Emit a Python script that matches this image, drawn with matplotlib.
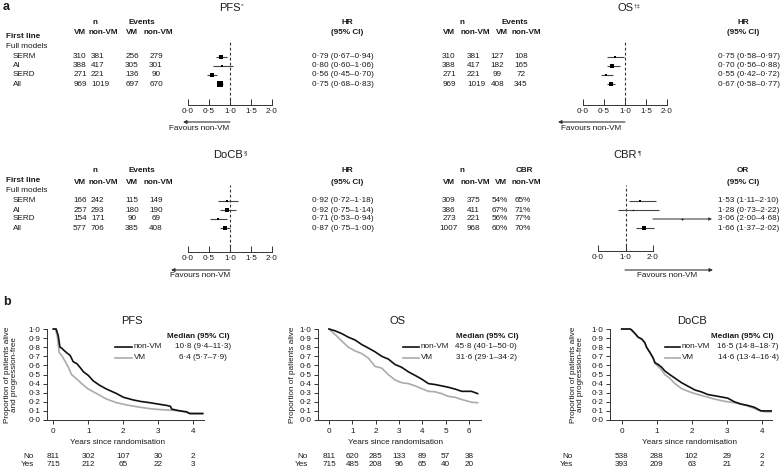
import matplotlib
matplotlib.use('Agg')
import matplotlib.pyplot as plt
import matplotlib.transforms as mtransforms
import numpy as np

plt.rcParams['font.family'] = ['Liberation Sans', 'DejaVu Sans']
plt.rcParams['axes.linewidth'] = 0.7

# ---------------- data (panel a) ----------------
subgroups = ['SERM', 'AI', 'SERD', 'All']

pfs_n_vm = [310, 388, 271, 969]
pfs_n_non = [381, 417, 221, 1019]
pfs_ev_vm = [256, 305, 136, 697]
pfs_ev_non = [279, 301, 90, 670]
pfs_hr = [0.79, 0.80, 0.56, 0.75]
pfs_lo = [0.67, 0.60, 0.45, 0.68]
pfs_hi = [0.94, 1.06, 0.70, 0.83]

os_n_vm = [310, 388, 271, 969]
os_n_non = [381, 417, 221, 1019]
os_ev_vm = [127, 182, 99, 408]
os_ev_non = [108, 165, 72, 345]
os_hr = [0.75, 0.70, 0.55, 0.67]
os_lo = [0.58, 0.56, 0.42, 0.58]
os_hi = [0.97, 0.88, 0.72, 0.77]

docb_n_vm = [166, 257, 154, 577]
docb_n_non = [242, 293, 171, 706]
docb_ev_vm = [115, 180, 90, 385]
docb_ev_non = [149, 190, 69, 408]
docb_hr = [0.92, 0.92, 0.71, 0.87]
docb_lo = [0.72, 0.75, 0.53, 0.75]
docb_hi = [1.18, 1.14, 0.94, 1.00]

cbr_n_vm = [309, 386, 273, 1007]
cbr_n_non = [375, 411, 221, 968]
cbr_pct_vm = [54, 67, 56, 60]
cbr_pct_non = [65, 71, 77, 70]
cbr_or = [1.53, 1.28, 3.06, 1.66]
cbr_lo = [1.11, 0.73, 2.00, 1.37]
cbr_hi = [2.10, 2.22, 4.68, 2.02]

# ---------------- data (panel b) ----------------
pfs_t_non = [0, 0.08, 0.14, 0.19, 0.24, 0.29, 0.38, 0.48, 0.57, 0.67, 0.76, 0.86, 1.0, 1.14,
             1.33, 1.52, 1.81, 2.0, 2.29, 2.48, 2.76, 3.0, 3.24, 3.35, 3.38, 3.62, 3.81, 3.9, 4.27]
pfs_s_non = [1.0, 1.0, 0.93, 0.80, 0.79, 0.77, 0.74, 0.71, 0.64, 0.62, 0.58, 0.53, 0.49, 0.43,
             0.38, 0.34, 0.29, 0.25, 0.22, 0.205, 0.19, 0.175, 0.16, 0.15, 0.12, 0.10, 0.09, 0.07, 0.07]
pfs_t_vm = [0, 0.06, 0.11, 0.17, 0.24, 0.33, 0.43, 0.52, 0.67, 0.81, 1.0, 1.24, 1.52, 1.81,
            2.1, 2.48, 2.86, 3.24, 3.62, 3.9, 4.27]
pfs_s_vm = [1.0, 1.0, 0.93, 0.74, 0.71, 0.65, 0.58, 0.50, 0.45, 0.40, 0.34, 0.29, 0.23, 0.19,
            0.165, 0.14, 0.12, 0.11, 0.10, 0.075, 0.075]

os_t = [0, 0.26, 0.54, 0.83, 1.11, 1.4, 1.69, 1.97, 2.26, 2.54, 2.83, 3.11, 3.4, 3.69, 3.97,
        4.26, 4.54, 4.83, 5.11, 5.4, 5.69, 6.11, 6.37]
os_s_non = [1.0, 0.98, 0.95, 0.91, 0.88, 0.83, 0.79, 0.75, 0.70, 0.67, 0.61, 0.58, 0.53, 0.49,
            0.45, 0.40, 0.39, 0.375, 0.36, 0.34, 0.315, 0.315, 0.29]
os_s_vm = [1.0, 0.94, 0.87, 0.80, 0.76, 0.73, 0.68, 0.59, 0.57, 0.50, 0.44, 0.41, 0.40, 0.375,
           0.345, 0.315, 0.31, 0.29, 0.26, 0.25, 0.225, 0.195, 0.19]

docb_t_non = [0, 0.24, 0.28, 0.38, 0.47, 0.57, 0.66, 0.71, 0.81, 0.9, 0.95, 1.04, 1.14, 1.23,
              1.37, 1.52, 1.71, 1.9, 2.09, 2.27, 2.46, 2.75, 3.03, 3.22, 3.41, 3.6, 3.79, 3.98, 4.27]
docb_s_non = [1.0, 1.0, 0.99, 0.95, 0.91, 0.89, 0.85, 0.80, 0.74, 0.68, 0.63, 0.61, 0.58, 0.54,
              0.50, 0.46, 0.41, 0.37, 0.33, 0.31, 0.28, 0.26, 0.24, 0.20, 0.175, 0.16, 0.14, 0.10, 0.10]
docb_t_vm = [0, 0.24, 0.28, 0.38, 0.47, 0.57, 0.66, 0.71, 0.81, 0.9, 0.95, 1.04, 1.14, 1.23,
             1.37, 1.52, 1.71, 1.9, 2.09, 2.37, 2.65, 2.94, 3.22, 3.51, 3.7, 3.89, 4.08, 4.27]
docb_s_vm = [1.0, 1.0, 0.99, 0.95, 0.91, 0.89, 0.85, 0.80, 0.74, 0.68, 0.62, 0.59, 0.55, 0.50,
             0.46, 0.40, 0.345, 0.315, 0.29, 0.26, 0.23, 0.205, 0.19, 0.165, 0.14, 0.11, 0.09, 0.09]

pfs_risk_times = [0, 1, 2, 3, 4]
pfs_risk_no = [811, 302, 107, 30, 2]
pfs_risk_yes = [715, 212, 65, 22, 3]
os_risk_times = [0, 1, 2, 3, 4, 5, 6]
os_risk_no = [811, 620, 285, 133, 89, 57, 38]
os_risk_yes = [715, 485, 208, 96, 65, 40, 20]
docb_risk_times = [0, 1, 2, 3, 4]
docb_risk_no = [538, 288, 102, 29, 2]
docb_risk_yes = [393, 209, 63, 21, 2]

pfs_median = {'non-VM': (10.8, 9.4, 11.3), 'VM': (6.4, 5.7, 7.9)}
os_median = {'non-VM': (45.8, 40.1, 50.0), 'VM': (31.6, 29.1, 34.2)}
docb_median = {'non-VM': (16.5, 14.8, 18.7), 'VM': (14.6, 13.4, 16.4)}

# ---------------- figure ----------------
W, H = 780, 468
fig = plt.figure(figsize=(W / 100, H / 100), dpi=100)
ov = fig.add_axes([0, 0, 1, 1], zorder=10)
ov.set_xlim(0, W)
ov.set_ylim(H, 0)
ov.axis('off')
ov.patch.set_alpha(0)
renderer = fig.canvas.get_renderer()

FS = 5.9
DARK = '#1a1a1a'
BLACK_C = '#111111'
GREY_C = '#ababab'


def txt(x, y, s, size=FS, ha='left', weight='normal', color=DARK, **kw):
    return ov.text(x, y, s, fontsize=size, ha=ha, va='center', fontweight=weight,
                   color=color, **kw)


def dot(v, nd=2):
    return f'{v:.{nd}f}'.replace('.', '·')


def title(xc, y, main, sup=''):
    t = txt(xc, y, main, size=8, ha='center')
    if sup:
        w = t.get_window_extent(renderer=renderer).width
        txt(xc + w / 2 + 0.5, y - 2.5, sup, size=4.5)


def px_axes(left, top, right, bottom):
    return fig.add_axes([left / W, 1 - bottom / H, (right - left) / W, (bottom - top) / H])


# ---------------- panel a: forest plots ----------------
def forest(p):
    title(p['title_x'], p['title_y'], p['title'], p['sup'])
    hy1, hy2 = p['hdr_y']
    for lab, x in p['groups']:
        txt(x, hy1, lab, ha='center', weight='bold')
    for lab, x in zip(['VM', 'non-VM', 'VM', 'non-VM'], p['sub_x']):
        txt(x, hy2, lab, ha='center', weight='bold')
    rows = [p['row_y0'] + i * p['row_dy'] for i in range(len(subgroups))]
    if p['rowlabels']:
        txt(6, p['row_y0'] - 20.5, 'First line', weight='bold')
        txt(6, p['row_y0'] - 10, 'Full models')
        for yy, g in zip(rows, subgroups):
            txt(13, yy, g)
    for ci, (vals, (cx, ha)) in enumerate(zip(p['cols'], p['col_x'])):
        for yy, v in zip(rows, vals):
            s = f'{v}%' if (p.get('pct') and ci >= 2) else f'{v}'
            txt(cx, yy, s, ha=ha)
    txt(p['eff_x'], hy1, p['eff'], ha='center', weight='bold')
    txt(p['eff_x'], hy2, '(95% CI)', ha='center', weight='bold')
    for yy, e, l, h in zip(rows, p['est'], p['lo'], p['hi']):
        txt(p['eff_txt_x'], yy, f'{dot(e)} ({dot(l)}–{dot(h)})')

    x0, x2 = p['ax_x']
    top, spine = p['ax_y']
    ax = px_axes(x0, top, x2, spine)
    ax.set_xlim(0, 2)
    dy = p['row_dy']
    ax.set_ylim((spine - p['row_y0']) / dy, (top - p['row_y0']) / dy)
    ax.patch.set_alpha(0)
    for s in ['top', 'right', 'left']:
        ax.spines[s].set_visible(False)
    ax.spines['bottom'].set_color('#333333')
    ax.spines['bottom'].set_linewidth(0.7)
    ax.set_yticks([])
    ax.set_xticks(p['ticks'])
    ax.set_xticklabels([dot(t, 1) for t in p['ticks']])
    ax.tick_params(axis='x', direction='in', length=4, width=0.7, labelsize=FS,
                   pad=2, colors='#333333', labelcolor=DARK)
    ax.axvline(1.0, color='#333333', lw=0.8, ls=(0, (2.5, 2)), ymax=0.97)
    idx = np.arange(len(subgroups))
    cut = p['cut']
    for i, e, l, h in zip(idx, p['est'], p['lo'], p['hi']):
        se = (np.log(h) - np.log(l)) / 3.92
        side = 0.35 / se
        if h > cut:
            ax.annotate('', xy=(cut, i), xytext=(l, i), annotation_clip=False,
                        arrowprops=dict(arrowstyle='-|>', color='#444444', lw=0.8,
                                        mutation_scale=4, shrinkA=0, shrinkB=0))
        else:
            ax.plot([l, h], [i, i], color='#444444', lw=0.8, clip_on=False,
                    solid_capstyle='butt')
        ax.plot([e], [i], marker='s', color='black', markersize=side * 0.72,
                markeredgewidth=0, clip_on=False, zorder=3)
    (ax1, ax2, ay), (tx, ty) = p['arrow'], p['arrow_txt']
    ov.annotate('', xy=(ax2, ay), xytext=(ax1, ay),
                arrowprops=dict(arrowstyle='-|>', color='#333333', lw=0.8,
                                mutation_scale=5, shrinkA=0, shrinkB=0))
    txt(tx, ty, 'Favours non-VM', ha='center')


left_cols = [(80, 'center'), (91, 'left'), (132, 'center'), (156, 'center')]
right_cols = [(449, 'center'), (467, 'left'), (497.5, 'center'), (521, 'center')]

forest(dict(title='PFS', sup='*', title_x=230, title_y=8, hdr_y=(22.5, 33),
            groups=[('n', 95), ('Events', 142)], sub_x=[80, 103, 132, 158],
            row_y0=56.7, row_dy=9.1, rowlabels=True,
            cols=[pfs_n_vm, pfs_n_non, pfs_ev_vm, pfs_ev_non], col_x=left_cols,
            eff='HR', eff_x=347, eff_txt_x=312,
            est=pfs_hr, lo=pfs_lo, hi=pfs_hi, ax_x=(188, 272), ax_y=(38, 105),
            ticks=[0, 0.5, 1.0, 1.5, 2.0], cut=10,
            arrow=(230, 183, 122), arrow_txt=(199, 128)))

forest(dict(title='OS', sup='†‡', title_x=625, title_y=8, hdr_y=(22.5, 33),
            groups=[('n', 462), ('Events', 515)], sub_x=[449, 475, 502, 526],
            row_y0=56.7, row_dy=9.1, rowlabels=False,
            cols=[os_n_vm, os_n_non, os_ev_vm, os_ev_non], col_x=right_cols,
            eff='HR', eff_x=743, eff_txt_x=718,
            est=os_hr, lo=os_lo, hi=os_hi, ax_x=(583, 667), ax_y=(38, 105),
            ticks=[0, 0.5, 1.0, 1.5, 2.0], cut=10,
            arrow=(625, 558, 122), arrow_txt=(591, 128)))

forest(dict(title='DoCB', sup='§', title_x=228, title_y=155, hdr_y=(171, 182),
            groups=[('n', 95), ('Events', 142)], sub_x=[80, 103, 132, 158],
            row_y0=201, row_dy=9, rowlabels=True,
            cols=[docb_n_vm, docb_n_non, docb_ev_vm, docb_ev_non], col_x=left_cols,
            eff='HR', eff_x=347, eff_txt_x=312,
            est=docb_hr, lo=docb_lo, hi=docb_hi, ax_x=(188, 272), ax_y=(183, 252),
            ticks=[0, 0.5, 1.0, 1.5, 2.0], cut=10,
            arrow=(230, 171, 270), arrow_txt=(200, 275.5)))

forest(dict(title='CBR', sup='¶', title_x=625, title_y=155, hdr_y=(171, 182),
            groups=[('n', 462), ('CBR', 524)], sub_x=[449, 475, 501, 526],
            row_y0=201, row_dy=9, rowlabels=False, pct=True,
            cols=[cbr_n_vm, cbr_n_non, cbr_pct_vm, cbr_pct_non],
            col_x=[(449, 'center'), (467, 'left'), (499.5, 'center'), (522.5, 'center')],
            eff='OR', eff_x=743, eff_txt_x=718,
            est=cbr_or, lo=cbr_lo, hi=cbr_hi, ax_x=(598, 653), ax_y=(183, 251),
            ticks=[0, 1.0, 2.0], cut=4.15,
            arrow=(625, 713, 270), arrow_txt=(667, 275.5)))

txt(3, 7, 'a', size=9, weight='bold')
txt(3, 302, 'b', size=9, weight='bold')


# ---------------- panel b: Kaplan-Meier ----------------
def km(p):
    spine_x, x0, pxyr, tmax = p['spine_x'], p['x0'], p['pxyr'], p['tmax']
    top, bottom = 329, 420
    ax = px_axes(spine_x, top, x0 + tmax * pxyr, bottom)
    ax.set_xlim((spine_x - x0) / pxyr, tmax)
    ax.set_ylim(0, 1)
    ax.patch.set_alpha(0)
    for s in ['top', 'right']:
        ax.spines[s].set_visible(False)
    for s in ['left', 'bottom']:
        ax.spines[s].set_color('#333333')
        ax.spines[s].set_linewidth(0.7)
    ax.set_xticks(p['risk_t'])
    ax.set_xticklabels([str(t) for t in p['risk_t']])
    yt = np.round(np.arange(0, 1.01, 0.1), 1)
    ax.set_yticks(yt)
    ax.set_yticklabels([dot(v, 1) for v in yt])
    ax.tick_params(direction='out', length=3, width=0.7, labelsize=FS, pad=1.5,
                   colors='#333333', labelcolor=DARK)
    ax.tick_params(axis='x', pad=2.5)
    (tn, sn), (tv, sv) = p['non'], p['vm']
    ax.plot(tv, sv, color=GREY_C, lw=1.2, clip_on=False)
    ax.plot(tn, sn, color=BLACK_C, lw=1.2, clip_on=False)

    title(p['title_x'], 321, p['title'])
    ylab_x, ylab = p['ylab']
    ov.text(ylab_x, 374.5, ylab, rotation=90, ha='center', va='center', fontsize=FS,
            color=DARK, linespacing=1.15, multialignment='center')
    txt(p['xlab_x'], 443, 'Years since randomisation', ha='center')

    trans = mtransforms.blended_transform_factory(ax.transData, ov.transData)
    txt(p['risk_lab_x'], 456.5, 'No', ha='right')
    txt(p['risk_lab_x'], 464, 'Yes', ha='right')
    for t, a, b in zip(p['risk_t'], p['risk_no'], p['risk_yes']):
        ov.text(t, 456.5, str(a), transform=trans, ha='center', va='center',
                fontsize=FS, color=DARK)
        ov.text(t, 464, str(b), transform=trans, ha='center', va='center',
                fontsize=FS, color=DARK)

    lx1, lx2, labx, valx, hdrx = p['leg']
    txt(hdrx, 336, 'Median (95% CI)', ha='center', weight='bold')
    for yy, key, col in [(347, 'non-VM', BLACK_C), (357.5, 'VM', GREY_C)]:
        ov.plot([lx1, lx2], [yy, yy], color=col, lw=1.2)
        txt(labx, yy, key)
        m, l, h = p['med'][key]
        txt(valx, yy, f'{dot(m, 1)} ({dot(l, 1)}–{dot(h, 1)})', ha='center')


km(dict(spine_x=47, x0=53.3, pxyr=35.0, tmax=4.3, title='PFS', title_x=132,
        non=(pfs_t_non, pfs_s_non), vm=(pfs_t_vm, pfs_s_vm),
        ylab=(11, 'Proportion of patients alive\nand progression-free'), xlab_x=118,
        risk_t=pfs_risk_times, risk_no=pfs_risk_no, risk_yes=pfs_risk_yes, risk_lab_x=34,
        leg=(115, 132, 134, 203, 198), med=pfs_median))

km(dict(spine_x=318, x0=329, pxyr=23.33, tmax=6.5, title='OS', title_x=398,
        non=(os_t, os_s_non), vm=(os_t, os_s_vm),
        ylab=(292, 'Proportion of patients alive'), xlab_x=395,
        risk_t=os_risk_times, risk_no=os_risk_no, risk_yes=os_risk_yes, risk_lab_x=308,
        leg=(403, 419, 421, 486, 487), med=os_median))

km(dict(spine_x=610, x0=621.7, pxyr=35.0, tmax=4.3, title='DoCB', title_x=692,
        non=(docb_t_non, docb_s_non), vm=(docb_t_vm, docb_s_vm),
        ylab=(577, 'Proportion of patients alive\nand progression-free'), xlab_x=689,
        risk_t=docb_risk_times, risk_no=docb_risk_no, risk_yes=docb_risk_yes, risk_lab_x=573,
        leg=(665, 680, 682, 748, 742), med=docb_median))

fig.savefig('out.png', dpi=100)
